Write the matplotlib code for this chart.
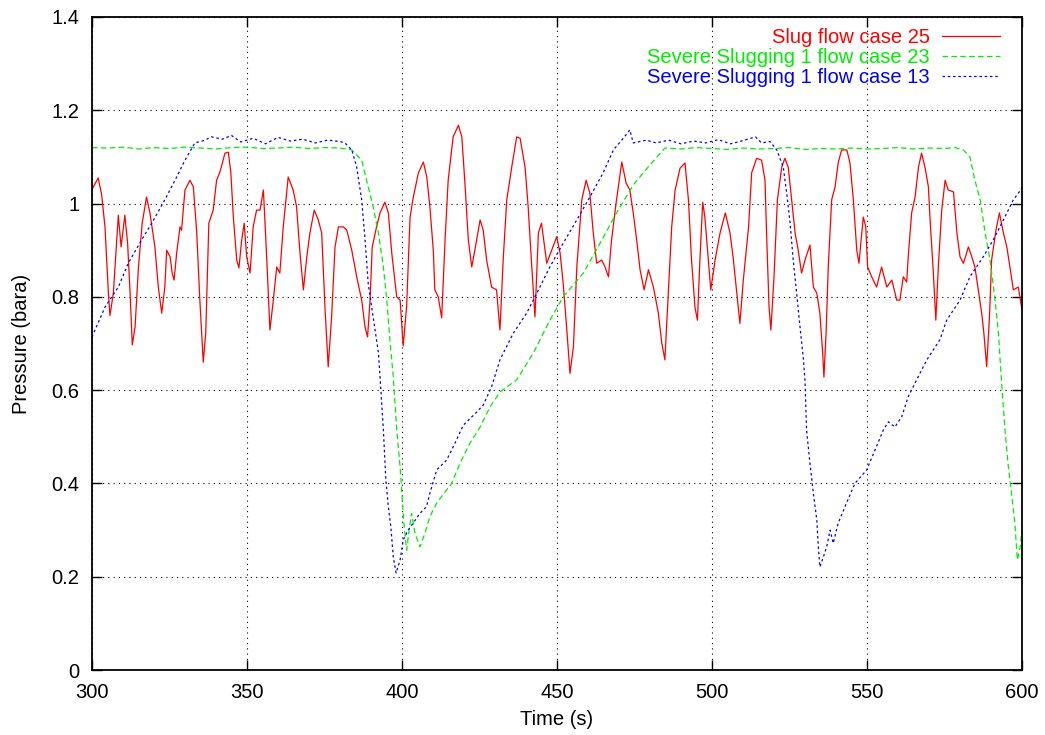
import matplotlib
matplotlib.use("Agg")
import matplotlib.pyplot as plt
from matplotlib.ticker import FuncFormatter

plt.rcParams['font.family'] = ['Liberation Sans', 'DejaVu Sans']
plt.rcParams['lines.scale_dashes'] = False

# Slug flow case 25
t_slug = [300.0, 302.0, 303.1, 304.2, 305.3, 305.8, 306.9, 308.0, 308.5, 309.4, 310.6, 311.5,
          312.3, 313.0, 313.9, 315.0, 316.2, 317.6, 318.7, 320.3, 321.4, 322.5, 323.5, 324.1,
          325.2, 325.9, 326.5, 327.3, 328.4, 328.9, 330.0, 331.6, 332.7, 333.8, 334.8, 335.9,
          336.7, 337.7, 339.1, 340.2, 341.3, 342.9, 344.0, 344.8, 345.6, 346.7, 347.4, 348.3,
          349.1, 349.9, 351.0, 352.0, 353.1, 354.2, 355.3, 356.4, 357.4, 358.5, 359.6, 360.6,
          361.7, 363.3, 364.9, 366.0, 367.1, 368.2, 369.3, 370.3, 371.7, 373.0, 374.1, 375.2,
          376.2, 377.3, 378.4, 379.5, 381.1, 382.2, 383.8, 385.4, 387.0, 388.1, 388.9, 389.7,
          390.4, 391.8, 392.9, 394.5, 395.6, 396.7, 398.3, 399.4, 400.4, 401.5, 402.6, 403.6,
          405.3, 406.9, 408.0, 409.0, 410.1, 410.6, 411.7, 412.8, 413.9, 414.9, 416.5, 418.2,
          419.3, 420.3, 421.4, 422.5, 423.5, 425.2, 426.2, 427.3, 428.9, 430.5, 431.6, 432.7,
          433.8, 435.4, 437.0, 438.1, 439.7, 440.7, 441.8, 442.9, 444.0, 445.0, 446.7, 448.3,
          449.9, 451.0, 452.0, 453.1, 454.2, 455.3, 456.4, 458.0, 459.4, 460.6, 461.7, 462.8,
          464.4, 465.5, 466.6, 467.6, 469.2, 470.9, 472.3, 473.5, 474.6, 475.7, 476.8, 478.1,
          479.5, 481.1, 482.7, 483.8, 484.8, 485.9, 487.0, 488.1, 489.7, 491.3, 492.4, 493.4,
          494.5, 495.3, 496.1, 497.0, 497.7, 498.8, 499.6, 501.0, 502.6, 504.3, 505.8, 506.8,
          507.9, 509.0, 510.1, 511.8, 512.8, 514.4, 516.0, 517.1, 517.6, 518.4, 519.0, 520.0,
          521.1, 522.5, 523.5, 524.6, 525.7, 526.8, 527.8, 528.9, 530.0, 531.6, 532.7, 533.8,
          534.8, 535.7, 536.1, 536.8, 537.5, 538.6, 539.7, 540.7, 541.8, 543.5, 544.5, 545.6,
          546.7, 547.4, 548.1, 548.8, 549.6, 550.2, 551.5, 553.1, 554.7, 556.4, 558.0, 559.6,
          560.6, 561.7, 562.8, 563.3, 564.4, 565.5, 566.6, 567.6, 568.7, 569.8, 570.3, 571.4,
          572.2, 573.0, 574.1, 575.2, 576.2, 577.9, 579.0, 580.0, 581.1, 582.7, 583.8, 584.8,
          585.9, 587.0, 587.7, 588.6, 589.5, 590.2, 591.6, 592.7, 594.0, 595.1, 596.1, 597.2,
          598.8, 600.0]
p_slug = [1.030, 1.055, 1.020, 0.950, 0.808, 0.760, 0.808, 0.922, 0.975, 0.907, 0.975, 0.915,
          0.808, 0.697, 0.735, 0.864, 0.958, 1.014, 0.980, 0.907, 0.821, 0.765, 0.821, 0.900,
          0.886, 0.850, 0.836, 0.893, 0.950, 0.943, 1.029, 1.050, 1.036, 0.937, 0.793, 0.660,
          0.722, 0.958, 0.986, 1.050, 1.068, 1.108, 1.110, 1.066, 0.971, 0.879, 0.862, 0.922,
          0.958, 0.886, 0.851, 0.950, 0.986, 0.986, 1.029, 0.879, 0.729, 0.793, 0.864, 0.851,
          0.950, 1.057, 1.029, 0.993, 0.894, 0.815, 0.886, 0.937, 0.986, 0.965, 0.937, 0.772,
          0.650, 0.757, 0.907, 0.950, 0.950, 0.943, 0.900, 0.843, 0.793, 0.735, 0.714, 0.793,
          0.907, 0.950, 0.980, 1.003, 0.980, 0.894, 0.800, 0.793, 0.695, 0.780, 0.970, 1.012,
          1.066, 1.089, 1.057, 0.993, 0.900, 0.815, 0.800, 0.755, 0.922, 1.050, 1.143, 1.168,
          1.143, 1.044, 0.922, 0.864, 0.900, 0.965, 0.943, 0.879, 0.821, 0.815, 0.729, 0.886,
          1.008, 1.078, 1.143, 1.140, 1.078, 0.993, 0.872, 0.757, 0.937, 0.958, 0.872, 0.900,
          0.929, 0.894, 0.829, 0.735, 0.636, 0.693, 0.864, 1.008, 1.050, 1.022, 0.937, 0.872,
          0.879, 0.864, 0.843, 0.922, 1.008, 1.089, 1.044, 1.029, 0.980, 0.922, 0.858, 0.815,
          0.858, 0.821, 0.765, 0.701, 0.665, 0.808, 0.950, 1.029, 1.076, 1.087, 1.008, 0.879,
          0.778, 0.750, 0.879, 1.003, 0.971, 0.879, 0.815, 0.879, 0.937, 0.980, 0.937, 0.886,
          0.815, 0.743, 0.836, 0.950, 1.066, 1.097, 1.093, 1.050, 0.937, 0.778, 0.729, 0.843,
          1.008, 1.078, 1.097, 1.078, 1.008, 0.937, 0.900, 0.851, 0.879, 0.911, 0.821, 0.808,
          0.765, 0.680, 0.628, 0.722, 0.864, 1.008, 1.036, 1.087, 1.115, 1.115, 1.087, 1.008,
          0.900, 0.872, 0.922, 0.971, 0.950, 0.864, 0.843, 0.821, 0.864, 0.821, 0.836, 0.793,
          0.793, 0.843, 0.832, 0.886, 0.980, 1.014, 1.078, 1.108, 1.078, 1.036, 0.971, 0.851,
          0.750, 0.864, 0.986, 1.050, 1.029, 1.025, 0.937, 0.886, 0.872, 0.907, 0.886, 0.864,
          0.815, 0.765, 0.722, 0.650, 0.757, 0.879, 0.943, 0.980, 0.937, 0.907, 0.864, 0.815,
          0.821, 0.772]

# Severe Slugging 1 flow case 23
t_ss23 = [300.0, 305.0, 310.0, 315.0, 320.0, 325.0, 330.0, 335.0, 340.0, 345.0, 350.0, 355.0,
          360.0, 365.0, 370.0, 375.0, 380.0, 383.8, 387.0, 389.1, 390.7, 392.4, 394.0, 395.1,
          396.1, 397.2, 398.3, 399.4, 399.9, 400.6, 401.5, 402.3, 403.1, 404.2, 405.8, 407.4,
          409.0, 411.2, 414.4, 416.0, 418.7, 421.9, 425.2, 428.4, 431.6, 437.0, 442.4, 447.7,
          452.0, 458.5, 463.9, 469.2, 474.6, 480.0, 484.8, 490.0, 495.0, 500.0, 505.0, 510.0,
          515.0, 520.0, 525.0, 530.0, 535.0, 540.0, 545.0, 550.0, 555.0, 560.0, 565.0, 570.0,
          575.0, 578.5, 581.1, 583.2, 584.8, 586.5, 588.1, 589.7, 591.3, 592.4, 593.4, 594.5,
          595.6, 596.6, 597.7, 598.5, 599.4, 600.0]
p_ss23 = [1.120, 1.119, 1.121, 1.117, 1.120, 1.118, 1.121, 1.119, 1.117, 1.120, 1.121, 1.118,
          1.119, 1.121, 1.118, 1.120, 1.119, 1.115, 1.093, 1.036, 0.993, 0.937, 0.864, 0.793,
          0.708, 0.628, 0.515, 0.435, 0.386, 0.315, 0.257, 0.300, 0.336, 0.293, 0.264, 0.293,
          0.329, 0.358, 0.386, 0.400, 0.443, 0.486, 0.521, 0.564, 0.596, 0.622, 0.680, 0.750,
          0.800, 0.851, 0.915, 0.980, 1.040, 1.083, 1.119, 1.117, 1.120, 1.118, 1.116, 1.119,
          1.117, 1.118, 1.120, 1.116, 1.118, 1.117, 1.119, 1.117, 1.118, 1.120, 1.117, 1.119,
          1.118, 1.120, 1.115, 1.100, 1.050, 1.008, 0.937, 0.879, 0.793, 0.722, 0.618, 0.515,
          0.435, 0.379, 0.315, 0.236, 0.264, 0.300]

# Severe Slugging 1 flow case 13
t_ss13 = [300.0, 304.2, 308.5, 311.7, 316.0, 319.3, 323.5, 326.8, 330.0, 333.2, 336.0, 338.6,
          342.0, 345.0, 348.0, 352.0, 356.0, 360.0, 364.0, 368.0, 372.0, 376.0, 380.0, 381.6,
          383.8, 385.4, 387.0, 388.1, 389.1, 390.7, 392.4, 393.0, 394.0, 394.8, 395.6, 396.4,
          397.2, 398.1, 399.4, 400.4, 402.0, 403.6, 405.8, 407.9, 409.0, 411.2, 414.4, 416.5,
          419.8, 424.1, 426.2, 428.9, 431.6, 435.9, 440.2, 443.5, 447.7, 452.0, 456.4, 460.6,
          464.9, 468.2, 471.4, 473.5, 474.6, 478.9, 482.0, 486.0, 490.0, 494.0, 498.0, 502.0,
          506.0, 510.0, 514.0, 516.0, 518.7, 520.9, 523.0, 524.1, 525.2, 526.2, 527.3, 528.4,
          529.5, 530.0, 530.5, 531.6, 532.7, 533.8, 534.3, 534.8, 535.9, 537.0, 538.1, 539.1,
          540.7, 543.4, 546.1, 549.9, 552.6, 555.3, 556.9, 559.0, 561.2, 563.3, 566.0, 569.3,
          573.5, 575.7, 580.0, 583.2, 587.5, 590.7, 594.0, 597.2, 600.0]
p_ss13 = [0.714, 0.778, 0.821, 0.872, 0.922, 0.958, 1.008, 1.050, 1.093, 1.130, 1.135, 1.143,
          1.138, 1.146, 1.132, 1.140, 1.128, 1.142, 1.134, 1.138, 1.130, 1.136, 1.133, 1.130,
          1.115, 1.078, 1.008, 0.922, 0.829, 0.757, 0.680, 0.620, 0.515, 0.407, 0.350, 0.307,
          0.242, 0.208, 0.236, 0.279, 0.300, 0.315, 0.336, 0.350, 0.379, 0.429, 0.450, 0.478,
          0.525, 0.553, 0.568, 0.607, 0.665, 0.722, 0.765, 0.808, 0.864, 0.915, 0.965, 1.014,
          1.066, 1.115, 1.140, 1.158, 1.130, 1.136, 1.130, 1.136, 1.128, 1.134, 1.130, 1.137,
          1.128, 1.135, 1.143, 1.130, 1.133, 1.115, 1.078, 1.022, 0.958, 0.879, 0.808, 0.735,
          0.665, 0.620, 0.515, 0.443, 0.379, 0.322, 0.264, 0.221, 0.242, 0.264, 0.300, 0.272,
          0.315, 0.358, 0.400, 0.429, 0.472, 0.515, 0.532, 0.521, 0.543, 0.586, 0.622, 0.665,
          0.708, 0.750, 0.793, 0.843, 0.886, 0.922, 0.965, 1.008, 1.033]

x_ticks = [300, 350, 400, 450, 500, 550, 600]
y_ticks = [0, 0.2, 0.4, 0.6, 0.8, 1.0, 1.2, 1.4]

fig = plt.figure(figsize=(10.45, 7.35), dpi=100)
ax = fig.add_axes([0.088, 0.0884, 0.890, 0.8885])

ax.plot(t_slug, p_slug, color='#ff0000', lw=0.9, label='Slug flow case 25')
ax.plot(t_ss23, p_ss23, color='#00ee00', lw=0.9, linestyle=(0, (4.0, 2.4)),
        label='Severe Slugging 1 flow case 23')
ax.plot(t_ss13, p_ss13, color='#0000ff', lw=0.9, linestyle=(0, (1.8, 2.0)),
        label='Severe Slugging 1 flow case 13')

ax.set_xlim(300, 600)
ax.set_ylim(0, 1.4)
ax.set_xticks(x_ticks)
ax.set_yticks(y_ticks)
ax.yaxis.set_major_formatter(FuncFormatter(lambda v, pos: '%g' % round(v, 2)))
ax.grid(True, color='black', linestyle=(0, (0.8, 3.0)), linewidth=0.8)
ax.tick_params(direction='in', length=7, width=1, top=True, right=True,
               labelsize=14.5, pad=9)
for s in ax.spines.values():
    s.set_linewidth(1.3)

ax.set_xlabel('Time (s)', fontsize=14.5, labelpad=6)
ax.set_ylabel('Pressure (bara)', fontsize=14.5, labelpad=15)

leg = ax.legend(loc='upper right', bbox_to_anchor=(0.992, 1.004), frameon=False,
                markerfirst=False, fontsize=14.5, handlelength=2.9,
                handletextpad=0.6, labelspacing=0.04, borderpad=0.2)
for txt, line in zip(leg.get_texts(), leg.get_lines()):
    txt.set_color(line.get_color())

fig.savefig('out.png', dpi=100)
